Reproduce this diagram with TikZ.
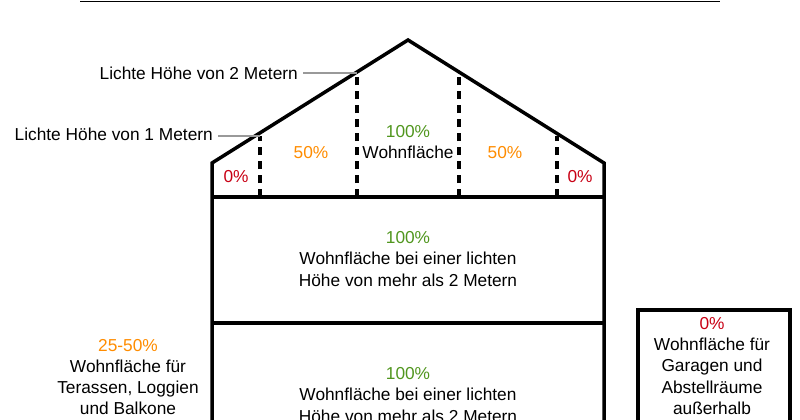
\documentclass[tikz,border=0pt]{standalone}
\usepackage{fontspec}
\setmainfont{Liberation Sans}
\begin{document}
\begin{tikzpicture}[x=1pt,y=-1pt,
  wall/.style={line width=3.5pt,line join=miter},
  dashln/.style={line width=3.5pt,dash pattern=on 8pt off 6pt},
  lead/.style={gray!80,line width=2.5pt},
  lbl/.style={font=\fontsize{17.3}{21.3}\selectfont,align=center,inner sep=1pt},
  org/.style={text={rgb,255:red,255;green,140;blue,0}},
  rd/.style={text={rgb,255:red,200;green,0;blue,20}}]
\useasboundingbox (0,0) rectangle (800,420);
\draw[line width=1pt] (80,2) -- (720,2);
\draw[wall] (212,430) -- (212,163) -- (408,40) -- (604,163) -- (604,430);
\draw[wall] (212,197) -- (604,197);
\draw[wall] (212,323) -- (604,323);
\draw[wall] (638,430) -- (638,310) -- (790,310) -- (790,430);
\foreach \x/\t in {260/136,357/72,459/72,557/136}
  \draw[dashln] (\x,197) -- (\x,\t);
\coordinate (a) at (303,73); \coordinate (b) at (357,73);
\coordinate (c) at (218,136); \coordinate (d) at (260,136);
\draw[lead] (a) -- (b);
\draw[lead] (c) -- (d);
\node[lbl,anchor=east] (l2) at (299,73) {Lichte Höhe von 2 Metern};
\node[lbl,anchor=east] (l1) at (214,134) {Lichte Höhe von 1 Metern};
\node[lbl,rd] (p1) at (236,177) {0\%};
\node[lbl,rd] (p2) at (580,177) {0\%};
\node[lbl,org] (p3) at (311,153) {50\%};
\node[lbl,org] (p4) at (505,153) {50\%};
\node[lbl] (p5) at (408,142) {\textcolor[RGB]{80,150,30}{100\%}\\Wohnfläche};
\node[lbl] (p6) at (408,259) {\textcolor[RGB]{80,150,30}{100\%}\\Wohnfläche bei einer lichten\\Höhe von mehr als 2 Metern};
\node[lbl] (p7) at (408,395) {\textcolor[RGB]{80,150,30}{100\%}\\Wohnfläche bei einer lichten\\Höhe von mehr als 2 Metern};
\node[lbl] (p8) at (128,377) {\textcolor[RGB]{255,140,0}{25-50\%}\\Wohnfläche für\\Terassen, Loggien\\und Balkone};
\node[lbl] (p9) at (712,366) {\textcolor[RGB]{200,0,20}{0\%}\\Wohnfläche für\\Garagen und\\Abstellräume\\außerhalb};
\end{tikzpicture}
\end{document}
